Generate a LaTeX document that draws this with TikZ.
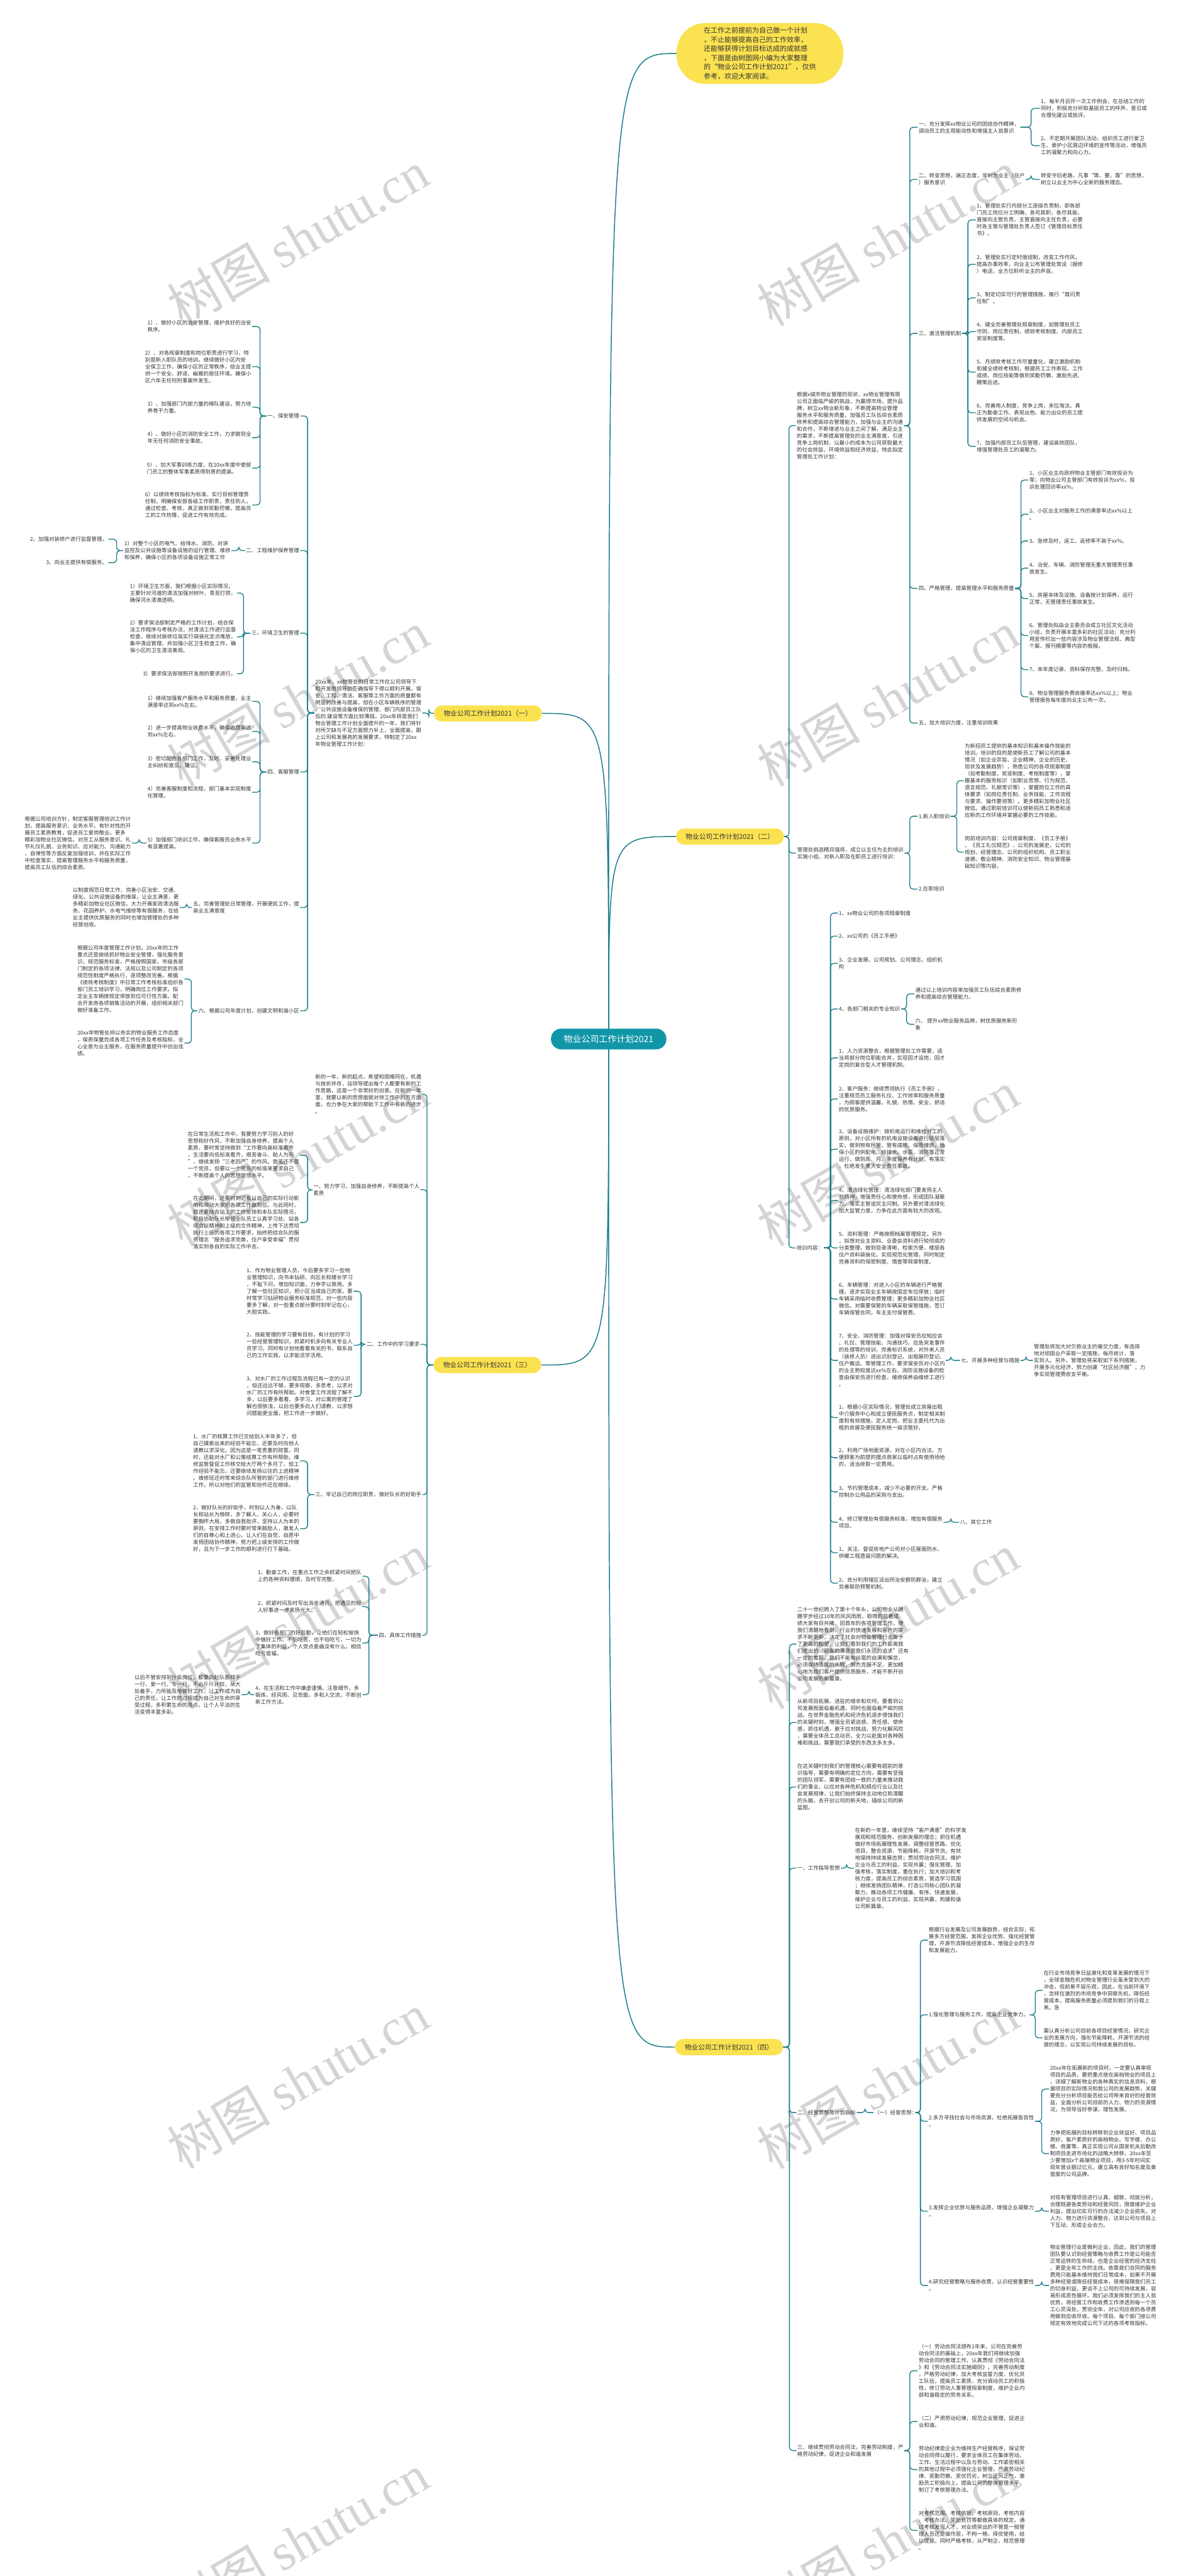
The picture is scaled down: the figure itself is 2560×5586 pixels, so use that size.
\documentclass[tikz,border=0pt]{standalone}
\usepackage{fontspec}
\setmainfont{Noto Sans CJK SC}
\newfontfamily\wmlat{Liberation Serif}
\usetikzlibrary{backgrounds}
\definecolor{lc}{RGB}{24,124,138}
\definecolor{yel}{RGB}{251,226,80}
\definecolor{rootc}{RGB}{17,150,168}
\definecolor{txtc}{RGB}{51,51,51}
\definecolor{wmc}{RGB}{212,212,212}
\tikzset{
 tx/.style={font=\fontsize{11.5}{15}\selectfont, align=left, inner sep=2pt, text=txtc},
 rt/.style={tx, anchor=west},
 lt/.style={tx, anchor=east},
 conn/.style={draw=lc, line width=1.8pt, rounded corners=7pt},
 conn0/.style={draw=lc, line width=2pt},
 ybox/.style={fill=yel, rounded corners=17pt, font=\fontsize{14.5}{17}\selectfont, inner xsep=21pt, inner ysep=0pt, minimum height=35pt, text=txtc},
 rootbox/.style={fill=rootc, rounded corners=22pt, text=white, font=\fontsize{19}{22}\selectfont, minimum height=45pt, inner xsep=28pt, inner ysep=0pt},
 notebox/.style={fill=yel, rounded corners=62pt, font=\fontsize{15}{19.8}\selectfont, align=left, minimum width=361pt, minimum height=132pt, text=txtc, inner sep=4pt},
 wm/.style={text=wmc, rotate=30, font=\fontsize{112}{112}\selectfont, inner sep=0pt}
}
\newcommand\rfork[3]{\coordinate (spx) at (#2,0);\foreach \ch in {#3}{\draw[conn] (#1.east) -- (#1.east -| spx) |- (\ch.west);}}
\newcommand\lfork[3]{\coordinate (spx) at (#2,0);\foreach \ch in {#3}{\draw[conn] (#1.west) -- (#1.west -| spx) |- (\ch.east);}}
\begin{document}
\begin{tikzpicture}[x=1pt,y=-1pt]
\useasboundingbox (0,0) rectangle (2560,5586);
% ---------- root and top note
\node[rootbox] (root) at (1320,2253) {物业公司工作计划2021};
\node[notebox] (note) at (1648,116) {在工作之前提前为自己做一个计划\\，不止能够提高自己的工作效率，\\还能够获得计划目标达成的成就感\\，下面是由树图网小编为大家整理\\的“物业公司工作计划2021”，仅供\\参考，欢迎大家阅读。};
% ---------- (二)
\node[ybox] (B2) at (1583,1814) {物业公司工作计划2021（二）};
\node[rt] (b2i) at (1726,923) {根据x城市物业管理的现状，xx物业管理有限\\公司正面临严峻的挑战，为赢得市场，提升品\\牌，树立xx物业新形象，不断提高物业管理\\服务水平和服务质量，加强员工队伍综合素质\\修养和提高综合管理能力，加强与业主的沟通\\和合作，不断增进与业主之间了解，满足业主\\的需求，不断提高管理处的业主满意度，引进\\竞争上岗机制，以最小的成本为公司获取最大\\的社会效益、环境效益和经济效益，特此拟定\\管理处工作计划：};
\node[rt] (b2a) at (1990,276) {一、充分发挥xx物业公司的团结协作精神，\\调动员工的主观能动性和增强主人翁意识};
\node[rt] (b2a1) at (2255,235) {1、每半月召开一次工作例会，在总结工作的\\同时，积极充分听取基层员工的呼声、意见或\\合理化建议或批评。};
\node[rt] (b2a2) at (2255,316) {2、不定期开展团队活动，组织员工进行爱卫\\生、爱护小区周边环境的宣传等活动，增强员\\工的凝聚力和向心力。};
\node[rt] (b2b) at (1990,389) {二、转变思想，端正态度，牢树为业主（住户\\）服务意识};
\node[rt] (b2b1) at (2255,389) {转变守旧老路，凡事“等、要、靠”的思想，\\树立以业主为中心全新的服务理念。};
\node[rt] (b2c) at (1990,723) {三、激活管理机制};
\node[rt] (b2c1) at (2116,477) {1、管理处实行内部分工逐级负责制，即各部\\门员工岗位分工明确，各司其职，各尽其能，\\直接向主管负责，主管直接向主任负责，必要\\时各主管与管理处负责人签订《管理目标责任\\书》。};
\node[rt] (b2c2) at (2116,573) {2、管理处实行定时值班制，改变工作作风，\\提高办事效率，向业主公布管理处常设（报修\\）电话，全方位聆听业主的声音。};
\node[rt] (b2c3) at (2116,646) {3、制定切实可行的管理措施，推行“首问责\\任制”。};
\node[rt] (b2c4) at (2116,719) {4、健全完善管理处规章制度，如管理处员工\\守则、岗位责任制、绩效考核制度、内部员工\\奖惩制度等。};
\node[rt] (b2c5) at (2116,807) {5、月绩效考核工作尽量量化，建立激励机制\\和健全绩效考核制，根据员工工作表现、工作\\成绩、岗位技能等做到奖勤罚懒，激励先进、\\鞭策后进。};
\node[rt] (b2c6) at (2116,895) {6、完善用人制度，竞争上岗，末位淘汰。真\\正为勤奋工作、表现出色、能力出众的员工提\\供发展的空间与机会。};
\node[rt] (b2c7) at (2116,968) {7、加强内部员工队伍管理，建设高效团队，\\增强管理处员工的凝聚力。};
\node[rt] (b2d) at (1990,1276) {四、严格管理，提高管理水平和服务质量};
\node[rt] (b2d1) at (2230,1041) {1、小区业主向政府物业主管部门有效投诉为\\零；向物业公司主管部门有效投诉为xx\%，投\\诉处理回访率xx\%。};
\node[rt] (b2d2) at (2230,1115) {2、小区业主对服务工作的满意率达xx\%以上\\。};
\node[rt] (b2d3) at (2230,1173) {3、急修及时，返工、返修率不高于xx\%。};
\node[rt] (b2d4) at (2230,1232) {4、治安、车辆、消防管理无重大管理责任事\\故发生。};
\node[rt] (b2d5) at (2230,1298) {5、房屋本体及设施、设备按计划保养，运行\\正常，无管理责任事故发生。};
\node[rt] (b2d6) at (2230,1378) {6、管理处拟由业主委员会成立社区文化活动\\小组，负责开展丰富多彩的社区活动；充分利\\用宣传栏出一些内容涉及物业管理法规、典型\\个案、报刊摘要等内容的板报。};
\node[rt] (b2d7) at (2230,1452) {7、本年度记录、资料保存完整，及时归档。};
\node[rt] (b2d8) at (2230,1511) {8、物业管理服务费收缴率达xx\%以上；物业\\管理报告每年度向业主公布一次。};
\node[rt] (b2e) at (1990,1568) {五、加大培训力度，注重培训效果};
\node[rt] (b2j) at (1727,1850) {管理处挑选精兵强将，成立以主任为主的培训\\实施小组，对新入职及在职员工进行培训：};
\node[rt] (b2j1) at (1990,1770) {1.新入职培训};
\node[rt] (b2j1a) at (2090,1693) {为新招员工提供的基本知识和基本操作技能的\\培训。培训的目的是使新员工了解公司的基本\\情况（如企业宗旨、企业精神、企业的历史、\\现状及发展趋势），熟悉公司的各项规章制度\\（如考勤制度，奖惩制度、考核制度等），掌\\握基本的服务知识（如职业思想、行为规范、\\语言规范、礼貌常识等），掌握岗位工作的具\\体要求（如岗位责任制、业务技能、工作流程\\与要求、操作要领等）。更多精彩加物业社区\\微信。通过职前培训可以使新招员工熟悉和适\\应新的工作环境并掌握必要的工作技能。};
\node[rt] (b2j1b) at (2090,1848) {岗前培训内容：公司规章制度、《员工手册》\\、《员工礼仪规范》、公司的发展史、公司的\\规划、经营理念、公司的组织机构、员工职业\\道德、敬业精神、消防安全知识、物业管理基\\础知识等内容。};
\node[rt] (b2j2) at (1990,1928) {2.在职培训};
\node[rt] (b2k) at (1725,2706) {培训内容：};
\node[rt] (k1) at (1817,1980) {1、xx物业公司的各项规章制度};
\node[rt] (k2) at (1817,2030) {2、xx公司的《员工手册》};
\node[rt] (k3) at (1817,2089) {3、企业发展、公司规划、公司理念、组织机\\构};
\node[rt] (k4) at (1817,2188) {4、各部门相关的专业知识};
\node[rt] (k4a) at (1983,2155) {通过以上培训内容来加强员工队伍综合素质修\\养和提高综合管理能力。};
\node[rt] (k4b) at (1983,2221) {六、 提升xx物业服务品牌，树优质服务新形\\象};
\node[rt] (k5) at (1817,2294) {1、人力资源整合，根据管理处工作需要，适\\当将部分岗位职能合并，实现因才设岗，因才\\定岗的复合型人才管理机制。};
\node[rt] (k6) at (1817,2383) {2、客户服务：继续贯彻执行《员工手册》，\\注重规范员工服务礼仪、工作效率和服务质量\\，为顾客提供温馨、礼貌、热情、安全、舒适\\的优质服务。};
\node[rt] (k7) at (1817,2492) {3、设备设施维护：按机电运行和维修分工的\\原则，对小区所有的机电设施设备进行层层落\\实，做到物有所管、管有成效、保质增质。确\\保小区的供配电、给排水、水泵、消防等正常\\运行，做到周、月、季度保养有计划，有落实\\，杜绝发生重大安全责任事故。};
\node[rt] (k8) at (1817,2603) {4、清洁绿化管理：清洁绿化部门要发扬主人\\翁精神，增强责任心和使命感，形成团队凝聚\\力，落实主管追究主问制。另外要对清洁绿化\\加大监管力度，力争在此方面有较大的改观。};
\node[rt] (k9) at (1817,2706) {5、资料管理：严格按照档案管理规定。另外\\，拟想对业主资料、业委会资料进行较彻底的\\分类整理，做到目录清晰，检索方便，楼层各\\住户资料袋装化，实现规范化管理，同时制定\\完善资料的保密制度、借查等规章制度。};
\node[rt] (k10) at (1817,2817) {6、车辆管理：对进入小区的车辆进行严格管\\理，逐步实现业主车辆按固定车位停放；临时\\车辆采用临时收费管理；更多精彩加物业社区\\微信。对需要保管的车辆采取保管措施，签订\\车辆保管合同，车主支付保管费。};
\node[rt] (k11) at (1817,2950) {7、安全、消防管理：加强对保安员应知应会\\、礼仪、管理技能、沟通技巧、应急突发事件\\的处理等的培训，完善标识系统，对外来人员\\（装修人员）进出识别登记、出租屋的登记、\\住户搬运、等管理工作，要求保安员对小区内\\的业主熟知度达xx\%左右。消防设施设备的检\\查由保安员进行检查，维修保养由维修工进行\\。};
\node[rt] (k11a) at (2082,2950) {七、开展多种经营与措施};
\node[rt] (k11b) at (2240,2950) {管理处将加大对欠款业主的催交力度，有选择\\地对顽固业户采取一定措施，每月统计，落\\实到人。另外，管理处将采取如下系列措施，\\开展多元化经济，努力创建“社区经济圈”，力\\争实现管理费收支平衡。};
\node[rt] (k12) at (1817,3074) {1、根据小区实际情况，管理处成立房屋出租\\中介服务中心和成立便民服务点，制定相关制\\度和有效措施，定人定岗，把业主委托代为出\\租的房屋及便民服务统一搞活管好。};
\node[rt] (k13) at (1817,3161) {2、利用广场地面资源，对在小区内合法、方\\便顾客为前提的摆点商家以临时占有使用场地\\的，适当收取一定费用。};
\node[rt] (k14) at (1817,3235) {3、节约管理成本，减少不必要的开支。严格\\控制办公用品的采购与支出。};
\node[rt] (k15) at (1817,3301) {4、修订管理处有偿服务标准，增加有偿服务\\项目。};
\node[rt] (k15a) at (2080,3301) {八、其它工作};
\node[rt] (k16) at (1817,3367) {1、关注、督促房地产公司对小区屋面防水、\\供暖工程遗留问题的解决。};
\node[rt] (k17) at (1817,3433) {2、充分利用辖区派出所治安群防群治，建立\\完善联防预警机制。};
% ---------- (四)
\node[ybox] (B4) at (1581,4439) {物业公司工作计划2021（四）};
\node[rt] (d1) at (1727,3565) {二十一世纪跨入了第十个年头，公司物业从蹒\\跚学步经过10年的风风雨雨，取得的显著成\\绩大家有目共睹。回首年的各项管理工作，使\\我们清醒地看到，行业的快速发展和客户的需\\求不断更新，决定了社会对物业管理行业寄予\\了更高的期望，让我们看到我们的工作距离我\\们提出的“顾客的满意是我们永远的追求”还有\\一定的差距，我们不能有丝毫的自满和懈怠，\\必须保持清醒的头脑，努力克服不足，更加精\\心地为我们客户提供优质服务，才能不断开创\\公司发展的新篇章。};
\node[rt] (d2) at (1727,3735) {从新项目拓展、进驻的艰辛和坎坷，要看到公\\司发展既面临着机遇，同时也面临着严峻的挑\\战。在世界金融危机和经济危机逐步侵蚀我们\\的关键时刻，增强全员紧迫感、责任感、使命\\感，抓住机遇，敢于应对挑战，努力化解风险\\，需要全体员工总动员，全力以赴面对各种困\\难和挑战，需要我们承受的东西太多太多。};
\node[rt] (d3) at (1727,3875) {在这关键时刻我们的管理核心需要有超前的意\\识指导，需要有明确的定位方向，需要有坚强\\的团队领军，需要有团结一致的力量来推动我\\们的事业，以应对各种危机和顺应行业以及社\\会发展规律，让我们始终保持主动地位和清醒\\的头脑，去开创公司的新天地，描绘公司的新\\蓝图。};
\node[rt] (d4) at (1727,4051) {一、工作指导思想};
\node[rt] (d4a) at (1852,4051) {在新的一年里，继续坚持“客户满意”的科学发\\展观和规范服务、创新发展的理念；抓住机遇\\做好市场拓展理性发展，调整经营思路，优化\\项目，整合资源，节能降耗，开源节流，有效\\地保持持续发展态势；贯彻劳动合同法，维护\\企业与员工的利益，实现共赢；强化管理，加\\强考核，落实制度，重在执行；加大培训和考\\核力度，提高员工的综合素质，营造学习氛围\\；继续发扬团队精神，打造公司核心团队的凝\\聚力，推动各项工作健康、有序、快速发展，\\维护企业与员工的利益，实现共赢，构建和谐\\公司新篇章。};
\node[rt] (d5) at (1727,4581) {二、经营思想及计划指标};
\node[rt] (d5a) at (1894,4581) {（一）经营思想：};
\node[rt] (e1) at (2012,4207) {根据行业发展及公司发展趋势，结合实际，拓\\展多方经营范围，发挥企业优势、强化经营管\\理，开源节流降低经营成本，增强企业的生存\\和发展能力。};
\node[rt] (e2) at (2012,4369) {1.强化管理与服务工作，提高企业竞争力。};
\node[rt] (e2a) at (2261,4316) {在行业市场竞争日益激化和变革发展的情况下\\，全球金融危机对物业管理行业虽未受到大的\\冲击，但前景不容乐观，因此，在当前环境下\\，怎样在激烈的市场竞争中洞察先机，降低经\\营成本，提高服务质量必须提到我们的日程上\\来。急};
\node[rt] (e2b) at (2261,4419) {需认真分析公司目前各项目经营情况，研究企\\业的发展方向，强化节能降耗，开源节流的经\\营的理念，以实现公司持续发展的目标。};
\node[rt] (e3) at (2012,4600) {2.多方寻找社会与市场资源，杜绝拓展盲目性\\。};
\node[rt] (e3a) at (2275,4530) {20xx年在拓展新的项目时，一定要认真审视\\项目的品质，要把重点放在高档物业的项目上\\，详细了解新物业的各种真实的信息资料，根\\据项目的实际情况和我公司的发展趋势，关键\\要充分分析项目能否给公司带来良好的经营效\\益，全面分析公司目前的人力、物力的资源情\\况，为领导当好参谋，理性发展。};
\node[rt] (e3b) at (2275,4670) {力争把拓展的目标转移到企业效益好、项目品\\质好、客户素质好的高档物业、写字楼、办公\\楼、商厦等，真正实现公司从国家机关后勤改\\制项目走进市场化的战略大转移，20xx年至\\少要增加x个高端物业项目，用3-5年时间实\\现年营业额过亿元，建立具有良好知名度及美\\誉度的公司品牌。};
\node[rt] (e4) at (2012,4795) {3.发挥企业优势与服务品质，增强企业凝聚力\\。};
\node[rt] (e4a) at (2275,4795) {对现有管理项目进行认真、细致、彻底分析，\\合理规避各类劳动和经营风险，限度维护企业\\利益，提出切实可行的办法减少企业损失。对\\人力、物力进行资源整合，达到公司与项目上\\下互动、形成企业合力。};
\node[rt] (e5) at (2012,4956) {4.研究经营策略与服务收费，认识经营重要性\\。};
\node[rt] (e5a) at (2275,4956) {物业管理行业是微利企业，因此，我们的管理\\团队要认识到经营策略与收费工作是公司能否\\正常运转的生命线，也是企业经营的经济支柱\\，更是全年工作的主线。依靠我们合同的服务\\费用只能基本维持我们日常成本，如果不开展\\多种经营或降低经营成本，很难保障我们员工\\的切身利益，更谈不上公司的可持续发展，容\\易形成恶性循环。我们必须发挥我们的主人翁\\优势，将经营工作和收费工作渗透到每一个员\\工心灵深处，贯彻全年，对公司应收的各项费\\用做到应收尽收。每个项目、每个部门按公司\\规定有效地完成公司下达的各项考核指标。};
\node[rt] (d6) at (1727,5314) {三、继续贯彻劳动合同法，完善劳动制度，严\\格劳动纪律，促进企业和谐发展};
\node[rt] (f1) at (1990,5141) {（一）劳动合同法颁布1年来，公司在完善劳\\动合同法的基础上，20xx年我们将继续加强\\劳动合同的管理工作，认真贯彻《劳动合同法\\》和《劳动合同法实施细则》，完善劳动制度\\，严格劳动纪律，加大考核监督力度，优化员\\工队伍，提高员工素质，充分调动员工的积极\\性，修订劳动人事管理规章制度，维护企业内\\部和谐稳定的劳务关系。};
\node[rt] (f2) at (1990,5251) {（二）严肃劳动纪律，规范企业管理，促进企\\业和谐。};
\node[rt] (f3) at (1990,5355) {劳动纪律是企业为维持生产经营秩序，保证劳\\动合同得以履行，要求全体员工在集体劳动、\\工作、生活过程中以及与劳动、工作紧密相关\\的其他过程中必须强化企业管理，严肃劳动纪\\律、奖勤罚懒、奖优罚劣，树立正风正气，激\\励员工积极向上，提高公司的整体管理水平，\\制订了考核管理办法。};
\node[rt] (f4) at (1990,5487) {对考核范围、考核依据、考核原则、考核内容\\、考核办法、奖励处罚等都做具体的规定。通\\过考核发现人才，对业绩突出的不管是一般管\\理人员还是操作层，不拘一格，择优使用，给\\以提拔。同时严格考核，从严制企，规范管理\\。};
% ---------- (一)
\node[ybox] (B1) at (1058,1547) {物业公司工作计划2021（一）};
\node[lt] (a0) at (916,1546) {20xx年，xx物管处的日常工作在公司领导下\\和开发商领导的正确指导下得以顺利开展，保\\安、工程、清洁、客服等工作方面的质量都有\\明显的改善与提高，但在小区车辆秩序的管理\\、公共设施设备维保的管理、部门内部员工队\\伍的 建设等方面比较薄弱。20xx年将是我们\\物业管理工作计划全面提升的一年，我们将针\\对所欠缺与不足方面努力补上，全面提高，跟\\上公司和发展商的发展要求，特制定了20xx\\年物业管理工作计划：};
\node[lt] (a1) at (651,902) {一、保安管理};
\node[lt] (a11) at (547,708) {1）、做好小区的治安管理，维护良好的治安\\秩序。};
\node[lt] (a12) at (547,795) {2）、对各规章制度和岗位职责进行学习，特\\别是新入职队员的培训。继续做好小区内安\\全保卫工作，确保小区的正常秩序，给业主提\\供一个安全、舒适、幽雅的居住环境。确保小\\区六年无任何刑事案件发生。};
\node[lt] (a13) at (547,883) {3）、加强部门内部力量的梯队建设，努力培\\养骨干力量。};
\node[lt] (a14) at (547,949) {4）、做好小区的消防安全工作，力求做到全\\年无任何消防安全事故。};
\node[lt] (a15) at (547,1015) {5）、加大军事训练力度，在20xx年度中使部\\门员工的整体军事素质得到质的提高。};
\node[lt] (a16) at (547,1095) {6）以绩效考核指标为标准，实行目标管理责\\任制，明确保安部各级工作职责，责任到人，\\通过检查、考核，真正做到奖勤罚懒，提高员\\工的工作热情，促进工作有效完成。};
\node[lt] (a2) at (651,1194) {二、工程维护保养管理};
\node[lt] (a21) at (502,1194) {1）对整个小区的电气、给排水、消防、对讲\\监控及公共设施等设备设施的运行管理、维修\\和保养，确保小区的各项设备设施正常工作};
\node[lt] (a211) at (235,1169) {2、加强对装修户进行监督管理。};
\node[lt] (a212) at (235,1220) {3、向业主提供有偿服务。};
\node[lt] (a3) at (651,1373) {三、环境卫生的管理};
\node[lt] (a31) at (514,1286) {1）环境卫生方面，我们根据小区实际情况，\\主要针对河道的清洁加强对树叶、青苔打捞，\\确保河水清澈透明。};
\node[lt] (a32) at (514,1381) {2）要求保洁部制定严格的工作计划，结合保\\洁工作程序与考核办法，对清洁工作进行监督\\检查，继续对装修垃圾实行袋装化定点堆放，\\集中清运管理，并加强小区卫生检查工作，确\\保小区的卫生清洁美观。};
\node[lt] (a33) at (514,1461) {3）要求保洁部按照开发商的要求进行。};
\node[lt] (a4) at (651,1674) {四、客服管理};
\node[lt] (a41) at (547,1521) {1）继续加强客户服务水平和服务质量，业主\\满意率达到xx\%左右。};
\node[lt] (a42) at (547,1586) {2）进一步提高物业收费水平，确保收费率达\\到xx\%左右。};
\node[lt] (a43) at (547,1652) {3）密切配合各部门工作，及时、妥善处理业\\主纠纷和意见、建议。};
\node[lt] (a44) at (547,1718) {4）完善客服制度和流程，部门基本实现制度\\化管理。};
\node[lt] (a45) at (547,1828) {5）加强部门培训工作，确保客服员业务水平\\有显著提高。};
\node[lt] (a451) at (286,1828) {根据公司培训方针，制定客服管理培训工作计\\划，提高服务意识、业务水平。有针对性的开\\展员工素质教育，促进员工爱岗敬业。更多\\精彩加物业社区微信。对员工从服务意识、礼\\节礼仪礼貌、业务知识、应对能力、沟通能力\\、自律性等方面反复加强培训，并在实际工作\\中检查落实，提高管理服务水平和服务质量，\\提高员工队伍的综合素质。};
\node[lt] (a5) at (651,1968) {五、完善管理处日常管理，开展便民工作，提\\高业主满意度};
\node[lt] (a51) at (390,1968) {以制度规范日常工作，完善小区治安、交通、\\绿化、公共设施设备的维保，让业主满意，更\\多精彩加物业社区微信。大力开展家政清洁服\\务、花园养护、水电气维修等有偿服务，在给\\业主提供优质服务的同时也增加管理处的多种\\经营创收。};
\node[lt] (a6) at (651,2192) {六、根据公司年度计划，创建文明和谐小区};
\node[lt] (a61) at (400,2123) {根据公司年度管理工作计划，20xx年的工作\\重点还是继续抓好物业安全管理，强化服务意\\识，规范服务标准，严格按照国家、市级各部\\门制定的各项法律、法规以及公司制定的各项\\规范性制度严格执行，逐项整改完善。根据\\《绩效考核制度》中日常工作考核标准组织各\\部门员工培训学习，明确岗位工作要求。拟\\定业主车辆按规定停放到位可行性方案。配\\合开发商各项销售活动的开展，组织相关部门\\做好准备工作。};
\node[lt] (a62) at (400,2262) {20xx年物管处将以务实的物业服务工作态度\\，保质保量完成各项工作任务及考核指标，全\\心全意为业主服务，在服务质量提升中创出佳\\绩。};
% ---------- (三)
\node[ybox] (B3) at (1057,2960) {物业公司工作计划2021（三）};
\node[lt] (c0) at (916,2373) {新的一年，新的起点，希望和困难同在，机遇\\与挫折并存，站领导提出每个人都要有新的工\\作思路，这是一个非常好的创意。在新的一年\\里，我要以新的思想面貌对待工作中的方方面\\面，也力争在大家的帮助下工作中有新的进步\\。};
\node[lt] (c1) at (912,2580) {一、努力学习，加强自身修养，不断提高个人\\素质};
\node[lt] (c11) at (651,2505) {在日常生活和工作中，我要努力学习别人的好\\思想和好作风，不断加强自身修养、提高个人\\素质，要时常坚持做到“工作要向高标准看齐\\，生活要向低标准看齐，艰苦奋斗、助人为乐\\”，继续发扬“三老四严”的作风。我虽还不是\\一个党员，但要以一个党员的标准来要求自己\\，不断提高个人的思想觉悟水平。};
\node[lt] (c12) at (651,2651) {在此期间，还要时刻记着以自己的实际行动影\\响和带动大家把各项工作做到位。与此同时，\\我还要结合站上的工作安排和本队实际情况，\\积极协助队长带领全队员工认真学习处、站各\\项会议精神和上级的文件精神，上传下达贯彻\\执行上级的各项工作要求，始终把综合队的服\\务理念“服务追求完美，住户享受幸福”贯彻\\落实到各自的实际工作中去。};
\node[lt] (c2) at (912,2915) {二、工作中的学习要求};
\node[lt] (c21) at (767,2800) {1、作为物业管理人员，今后要多学习一些物\\业管理知识，向书本钻研、向区长和楼长学习\\，不耻下问，增加知识面，力争学以致用。多\\了解一些社区知识，把小区当成自己的家。要\\时常学习钻研物业服务标准规范，对一些内容\\要多了解，对一些重点部分要时刻牢记在心，\\大胆实践。};
\node[lt] (c22) at (767,2917) {2、技能管理的学习要有目标，有计划的学习\\一些经营管理知识，抓紧时机多向有关专业人\\员学习，同时有计划地看看有关的书，联系自\\己的工作实践，以求能活学活用。};
\node[lt] (c23) at (767,3028) {3、对水厂的工作过程及流程已有一定的认识\\，但还远远不够，要多观察、多思考，以求对\\水厂的工作有所帮助。对食堂工作流程了解不\\多，以后要多看看、多学习。对公寓的管理了\\解也很肤浅，以后也要多向人们请教，以求想\\问题能更全面，把工作进一步做好。};
\node[lt] (c3) at (916,3241) {三、牢记自己的岗位职责，做好队长的好助手};
\node[lt] (c31) at (651,3168) {1、水厂的核算工作已交给别人半年多了，但\\自己摸索出来的经验不能忘，还要及时向他人\\请教以求深化，因为这是一笔贵重的财富。同\\时，还能对水厂和公寓结算工作有所帮助。维\\修监管督促工作移交给大厅两个多月了，但工\\作经验不能忘，还要继续发扬以往的上进精神\\。维修班还时常来综合队所管的部门进行维修\\工作，所以对他们的监管和协作还在继续。};
\node[lt] (c32) at (651,3315) {2、做好队长的好助手，时刻以人为善，以队\\长和站长为榜样，多了解人、关心人，必要时\\要胸怀大局，多做自我批评，坚持以人为本的\\原则，在安排工作时要时常来鼓励人，激发人\\们的自尊心和上进心，让人们在自觉、自愿中\\发扬团结协作精神，努力把上级安排的工作做\\好，且为下一步工作的顺利进行打下基础。};
\node[lt] (c4) at (916,3546) {四、具体工作措施};
\node[lt] (c41) at (786,3418) {1、勤奋工作，在重点工作之余抓紧时间把队\\上的各种资料理顺，及时写完整。};
\node[lt] (c42) at (786,3484) {2、抓紧时间及时写出消息通讯，把遇见的好\\人好事进一步发扬光大。};
\node[lt] (c43) at (786,3563) {3、做好各部门的好后勤，让他们在轻松愉快\\中做好工作。不怕吃苦，也不怕吃亏，一切为\\了集体的利益，个人受点委曲没有什么，相信\\吃亏是福。};
\node[lt] (c44) at (786,3675) {4、在生活和工作中谦虚谨慎、注意细节，多\\锻炼，经风雨、见世面，多和人交流，不断创\\新工作方法。};
\node[lt] (c441) at (524,3675) {以后不管安排到什么岗位，都要向赵队那样干\\一行、爱一行、专一行，不必斤斤计较，从大\\处着手，力所能及地做好工作，让工作成为自\\己的责任，让工作的过程成为自己对生命的享\\受过程，多积累生命的亮点，让个人平淡的生\\活变得丰富多彩。};
% ---------- connectors and watermarks
\begin{pgfonlayer}{background}
\fill[white] (0,0) rectangle (2560,5586);
\foreach \wy in {517,1515,2512,3515,4512,5510}{
 \node[wm] (wmL\wy) at (646,\wy) {树图 {\wmlat shutu.cn}};
 \node[wm] (wmR\wy) at (1925,\wy) {树图 {\wmlat shutu.cn}};
}
\draw[conn0] (root.center) .. controls (root.center |- note.west) .. (note.west);
\draw[conn0] (root.center) .. controls (root.center |- B2.west) .. (B2.west);
\draw[conn0] (root.center) .. controls (root.center |- B4.west) .. (B4.west);
\draw[conn0] (root.center) .. controls (root.center |- B1.east) .. (B1.east);
\draw[conn0] (root.center) .. controls (root.center |- B3.east) .. (B3.east);
\rfork{B2}{1711}{b2i,b2j,b2k}
\rfork{b2i}{1973}{b2a,b2b,b2c,b2d,b2e}
\rfork{b2a}{2236}{b2a1,b2a2}
\rfork{b2b}{2236}{b2b1}
\rfork{b2c}{2099}{b2c1,b2c2,b2c3,b2c4,b2c5,b2c6,b2c7}
\rfork{b2d}{2214}{b2d1,b2d2,b2d3,b2d4,b2d5,b2d6,b2d7,b2d8}
\rfork{b2j}{1973}{b2j1,b2j2}
\rfork{b2j1}{2075}{b2j1a,b2j1b}
\rfork{b2k}{1801}{k1,k2,k3,k4,k5,k6,k7,k8,k9,k10,k11,k12,k13,k14,k15,k16,k17}
\rfork{k4}{1966}{k4a,k4b}
\rfork{k11}{2062}{k11a}
\rfork{k11a}{2225}{k11b}
\rfork{k15}{2062}{k15a}
\rfork{B4}{1712}{d1,d2,d3,d4,d5,d6}
\rfork{d4}{1836}{d4a}
\rfork{d5}{1876}{d5a}
\rfork{d5a}{1996}{e1,e2,e3,e4,e5}
\rfork{e2}{2245}{e2a,e2b}
\rfork{e3}{2259}{e3a,e3b}
\rfork{e4}{2259}{e4a}
\rfork{e5}{2259}{e5a}
\rfork{d6}{1973}{f1,f2,f3,f4}
\lfork{B1}{930}{a0}
\lfork{a0}{667}{a1,a2,a3,a4,a5,a6}
\lfork{a1}{564}{a11,a12,a13,a14,a15,a16}
\lfork{a2}{518}{a21}
\lfork{a21}{253}{a211,a212}
\lfork{a3}{528}{a31,a32,a33}
\lfork{a4}{564}{a41,a42,a43,a44,a45}
\lfork{a45}{302}{a451}
\lfork{a5}{405}{a51}
\lfork{a6}{415}{a61,a62}
\lfork{B3}{926}{c0,c1,c2,c3,c4}
\lfork{c1}{667}{c11,c12}
\lfork{c2}{783}{c21,c22,c23}
\lfork{c3}{667}{c31,c32}
\lfork{c4}{800}{c41,c42,c43,c44}
\lfork{c44}{540}{c441}
\end{pgfonlayer}
\end{tikzpicture}
\end{document}
